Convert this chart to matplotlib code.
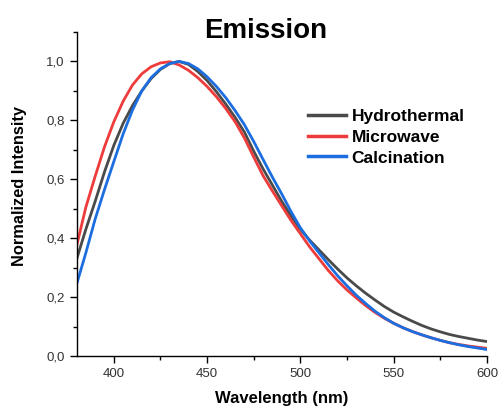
import matplotlib.pyplot as plt
from matplotlib.ticker import MultipleLocator, FuncFormatter

plt.rcParams['font.family'] = ['Liberation Sans', 'DejaVu Sans']

# readings (nm, normalized intensity), every 5 nm
wl = list(range(380, 601, 5))
hydrothermal = [0.327, 0.43, 0.525, 0.625, 0.715, 0.79, 0.85, 0.90, 0.942,
                0.973, 0.993, 1.0, 0.99, 0.966, 0.935, 0.897, 0.855, 0.81,
                0.76, 0.695, 0.635, 0.58, 0.525, 0.475, 0.43, 0.393, 0.36,
                0.327, 0.295, 0.265, 0.238, 0.213, 0.19, 0.168, 0.149, 0.133,
                0.118, 0.104, 0.092, 0.082, 0.073, 0.066, 0.06, 0.054, 0.049]
microwave = [0.372, 0.505, 0.61, 0.71, 0.795, 0.865, 0.92, 0.958, 0.982,
             0.995, 0.999, 0.988, 0.97, 0.945, 0.915, 0.88, 0.84, 0.795,
             0.74, 0.675, 0.612, 0.56, 0.51, 0.46, 0.415, 0.37, 0.33, 0.29,
             0.255, 0.224, 0.197, 0.171, 0.148, 0.128, 0.111, 0.096, 0.083,
             0.072, 0.062, 0.053, 0.045, 0.039, 0.034, 0.030, 0.026]
calcination = [0.242, 0.35, 0.465, 0.565, 0.66, 0.754, 0.835, 0.90, 0.945,
               0.975, 0.993, 1.0, 0.993, 0.975, 0.948, 0.915, 0.877, 0.833,
               0.785, 0.728, 0.667, 0.607, 0.55, 0.49, 0.435, 0.39, 0.35,
               0.31, 0.272, 0.238, 0.206, 0.178, 0.152, 0.13, 0.111, 0.096,
               0.083, 0.072, 0.062, 0.053, 0.045, 0.038, 0.032, 0.027, 0.022]

fig = plt.figure(figsize=(5.0, 4.09), dpi=100)
ax = fig.add_axes([76.5/500, 1-356/409, (487-76.5)/500, (356-32)/409])

ax.plot(wl, hydrothermal, color='#4a4a4a', lw=2, label='Hydrothermal')
ax.plot(wl, microwave, color='#ee3b3b', lw=2, label='Microwave')
ax.plot(wl, calcination, color='#1c6ee0', lw=2, label='Calcination')

ax.set_xlim(380, 600)
ax.set_ylim(0, 1.1)
ax.spines['top'].set_visible(False)
ax.spines['right'].set_visible(False)
ax.spines['left'].set_linewidth(1.0)
ax.spines['bottom'].set_linewidth(1.0)

ax.xaxis.set_major_locator(MultipleLocator(50))
ax.xaxis.set_minor_locator(MultipleLocator(25))
ax.yaxis.set_major_locator(MultipleLocator(0.2))
ax.yaxis.set_minor_locator(MultipleLocator(0.1))
ax.yaxis.set_major_formatter(FuncFormatter(lambda v, p: f'{v:.1f}'.replace('.', ',')))
ax.tick_params(which='major', direction='out', length=5, width=1,
               labelsize=9.5, labelcolor='#333333')
ax.tick_params(which='minor', direction='out', length=3, width=1)

ax.set_xlabel('Wavelength (nm)', fontsize=12, fontweight='bold')
ax.set_ylabel('Normalized Intensity', fontsize=11.8, fontweight='bold')
ax.xaxis.set_label_coords(0.5, -(399-356)/324, transform=ax.transAxes)
ax.yaxis.set_label_coords(-(76.5-20)/410.5, (356-186.5)/324, transform=ax.transAxes)
ax.xaxis.label.set_va('center')
ax.yaxis.label.set_va('center')

fig.text(266/500, 1-31/409, 'Emission', fontsize=20, fontweight='bold',
         ha='center', va='center')

leg = ax.legend(loc='upper left', bbox_to_anchor=((308-76.5)/410.5, (356-109)/324),
                frameon=False, fontsize=12.5, handlelength=2.2, handletextpad=0.3,
                labelspacing=0.32, borderaxespad=0, borderpad=0)
for t in leg.get_texts():
    t.set_fontweight('bold')
for l in leg.get_lines():
    l.set_linewidth(2.5)

fig.savefig('out.png', dpi=100)
